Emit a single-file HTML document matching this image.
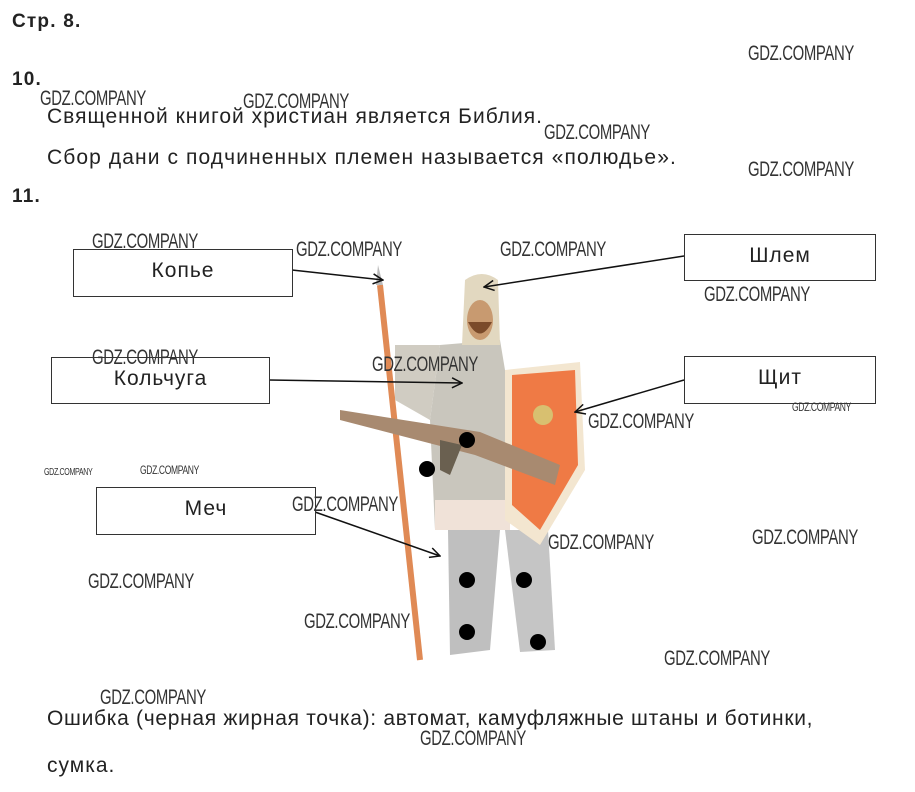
<!DOCTYPE html>
<html><head><meta charset="utf-8"><style>
body{margin:0;width:915px;height:792px;background:#fff;position:relative;overflow:hidden;font-family:"Liberation Sans",sans-serif;color:#222}
.t{position:absolute;font-size:21px;letter-spacing:1px;white-space:nowrap}
.b{font-weight:bold;font-size:19px;letter-spacing:1.2px}
.box{position:absolute;border:1.5px solid #333;box-sizing:border-box;font-size:21px;letter-spacing:1px;text-align:center;background:#fff}
.w{position:absolute;font-size:21px;color:#333;white-space:nowrap;transform:scaleX(0.71);transform-origin:0 0;letter-spacing:-0.5px}
</style></head><body>
<div class="t b" style="left:12px;top:11px">Стр. 8.</div>
<div class="t b" style="left:12px;top:69px">10.</div>
<div class="t" style="left:47px;top:105px">Священной книгой христиан является Библия.</div>
<div class="t" style="left:47px;top:146px;letter-spacing:1.1px">Сбор дани с подчиненных племен называется «полюдье».</div>
<div class="t b" style="left:12px;top:186px">11.</div>

<svg style="position:absolute;left:0;top:0" width="915" height="792">
<defs><marker id="a" markerWidth="12" markerHeight="12" refX="11" refY="6" orient="auto" markerUnits="userSpaceOnUse"><path d="M1,1 L11,6 L1,11" fill="none" stroke="#111" stroke-width="1.5"/></marker></defs>
<line x1="380" y1="285" x2="420" y2="660" stroke="#e08a55" stroke-width="6"/>
<path d="M378,265 L383,285 L376,285Z" fill="#bbb"/>
<path d="M448,530 L500,530 L490,650 L450,655 Z" fill="#bfbfbf"/>
<path d="M505,530 L548,530 L555,650 L520,652 Z" fill="#c5c5c5"/>
<path d="M440,345 L500,340 L510,400 L505,530 L435,530 L430,420 Z" fill="#c9c6bd"/>
<rect x="435" y="500" width="75" height="30" fill="#f0e2d8"/>
<path d="M395,345 L440,345 L430,420 L395,400Z" fill="#d0ccc2"/>
<path d="M465,280 Q482,268 498,280 L500,345 L462,345 Z" fill="#e2d8c0"/>
<ellipse cx="480" cy="320" rx="13" ry="20" fill="#c89a70"/>
<path d="M468,322 Q480,345 492,322Z" fill="#7a4a2a"/>
<path d="M505,370 L580,362 L585,470 L540,545 L505,520 Z" fill="#f3e6d0"/>
<path d="M512,375 L575,370 L578,465 L540,530 L512,505 Z" fill="#ef7a45"/>
<circle cx="543" cy="415" r="10" fill="#d8c070"/>
<path d="M340,410 L480,432 L560,465 L555,485 L475,455 L340,420Z" fill="#a88a70"/>
<path d="M440,440 L462,445 L450,475 L440,470Z" fill="#6a6050"/>
<circle cx="467" cy="440" r="8" fill="#000"/>
<circle cx="427" cy="469" r="8" fill="#000"/>
<circle cx="467" cy="580" r="8" fill="#000"/>
<circle cx="524" cy="580" r="8" fill="#000"/>
<circle cx="467" cy="632" r="8" fill="#000"/>
<circle cx="538" cy="642" r="8" fill="#000"/>
<g stroke="#111" stroke-width="1.5" fill="none" marker-end="url(#a)">
<line x1="292" y1="270" x2="383" y2="280"/>
<line x1="684" y1="256" x2="484" y2="287"/>
<line x1="269" y1="380" x2="462" y2="383"/>
<line x1="684" y1="380" x2="575" y2="412"/>
<line x1="315" y1="512" x2="440" y2="556"/>
</g>
</svg>

<div class="box" style="left:73px;top:249px;width:220px;height:48px;padding-top:9px">Копье</div>
<div class="box" style="left:684px;top:234px;width:192px;height:47px;padding-top:9px">Шлем</div>
<div class="box" style="left:51px;top:357px;width:219px;height:47px;padding-top:9px">Кольчуга</div>
<div class="box" style="left:684px;top:356px;width:192px;height:48px;padding-top:9px">Щит</div>
<div class="box" style="left:96px;top:487px;width:220px;height:48px;padding-top:9px">Меч</div>

<div class="t" style="left:47px;top:707px;letter-spacing:0.7px">Ошибка (черная жирная точка): автомат, камуфляжные штаны и ботинки,</div>
<div class="t" style="left:47px;top:754px">сумка.</div>

<div class="w" style="left:748px;top:42px">GDZ.COMPANY</div>
<div class="w" style="left:40px;top:87px">GDZ.COMPANY</div>
<div class="w" style="left:243px;top:90px">GDZ.COMPANY</div>
<div class="w" style="left:544px;top:121px">GDZ.COMPANY</div>
<div class="w" style="left:748px;top:158px">GDZ.COMPANY</div>
<div class="w" style="left:92px;top:230px">GDZ.COMPANY</div>
<div class="w" style="left:296px;top:238px">GDZ.COMPANY</div>
<div class="w" style="left:500px;top:238px">GDZ.COMPANY</div>
<div class="w" style="left:704px;top:283px">GDZ.COMPANY</div>
<div class="w" style="left:92px;top:346px">GDZ.COMPANY</div>
<div class="w" style="left:372px;top:353px">GDZ.COMPANY</div>
<div class="w" style="left:792px;top:400px;font-size:12px">GDZ.COMPANY</div>
<div class="w" style="left:588px;top:410px">GDZ.COMPANY</div>
<div class="w" style="left:44px;top:467px;font-size:10px">GDZ.COMPANY</div>
<div class="w" style="left:140px;top:463px;font-size:12px">GDZ.COMPANY</div>
<div class="w" style="left:292px;top:493px">GDZ.COMPANY</div>
<div class="w" style="left:548px;top:531px">GDZ.COMPANY</div>
<div class="w" style="left:752px;top:526px">GDZ.COMPANY</div>
<div class="w" style="left:88px;top:570px">GDZ.COMPANY</div>
<div class="w" style="left:304px;top:610px">GDZ.COMPANY</div>
<div class="w" style="left:664px;top:647px">GDZ.COMPANY</div>
<div class="w" style="left:100px;top:686px">GDZ.COMPANY</div>
<div class="w" style="left:420px;top:727px">GDZ.COMPANY</div>
</body></html>
